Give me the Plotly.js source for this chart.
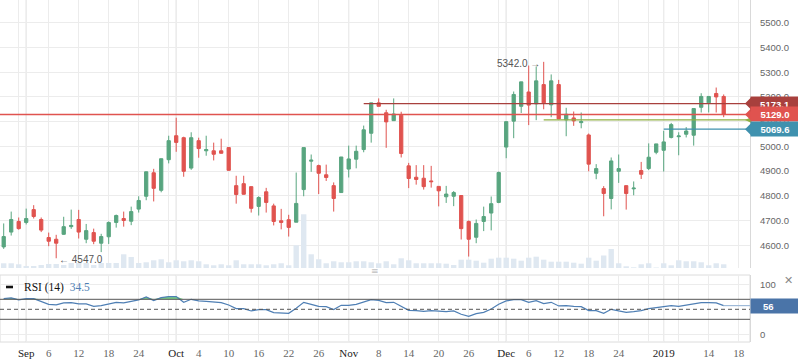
<!DOCTYPE html>
<html><head><meta charset="utf-8">
<script src="https://cdn.plot.ly/plotly-3.0.1.min.js"></script>
<style>html,body{margin:0;padding:0;background:#fff}#chart{width:798px;height:363px}</style>
</head><body><div id="chart"></div>
<script>
// ---- data ----
const dates = [
'2018-08-29','2018-08-30','2018-08-31',
'2018-09-03','2018-09-04','2018-09-05','2018-09-06','2018-09-07','2018-09-10','2018-09-11','2018-09-12','2018-09-13','2018-09-14','2018-09-17','2018-09-18','2018-09-19','2018-09-20','2018-09-21','2018-09-24','2018-09-25','2018-09-26','2018-09-27','2018-09-28',
'2018-10-01','2018-10-02','2018-10-03','2018-10-04','2018-10-05','2018-10-08','2018-10-09','2018-10-10','2018-10-11','2018-10-12','2018-10-15','2018-10-16','2018-10-17','2018-10-18','2018-10-19','2018-10-22','2018-10-23','2018-10-24','2018-10-25','2018-10-26','2018-10-29','2018-10-30','2018-10-31',
'2018-11-01','2018-11-02','2018-11-06','2018-11-07','2018-11-08','2018-11-09','2018-11-12','2018-11-13','2018-11-14','2018-11-15','2018-11-16','2018-11-19','2018-11-20','2018-11-21','2018-11-22','2018-11-23','2018-11-26','2018-11-27','2018-11-28','2018-11-29','2018-11-30',
'2018-12-03','2018-12-04','2018-12-05','2018-12-06','2018-12-07','2018-12-10','2018-12-11','2018-12-12','2018-12-13','2018-12-14','2018-12-17','2018-12-18','2018-12-19','2018-12-20','2018-12-21','2018-12-24','2018-12-25','2018-12-26','2018-12-27','2018-12-28','2018-12-29',
'2019-01-03','2019-01-04','2019-01-08','2019-01-09','2019-01-10','2019-01-11','2019-01-14','2019-01-15','2019-01-16'];
const futureDays = ['2019-01-17','2019-01-18'];

const openP  = [4593,4653,4696,4692,4744,4704,4631,4624,4644,4675,4704,4624,4651,4608,4634,4692,4708,4697,4746,4798,
                4893,4822,4946,5043,5035,4912,5023,4982,4982,4982,4995,4841,4849,4837,4757,4816,4759,4699,4703,4693,
                4825,4940,4922,4885,4841,4813,4908,4948,4987,5053,5176,5136,5104,5126,4921,4875,4871,4860,4838,4796,
                4798,4801,4696,4632,4696,4730,4773,4997,5102,5162,5220,5172,5250,5168,5250,5107,5115,5096,5046,4891,
                4829,4789,4899,4841,4828,4902,4910,4976,4984,5036,5039,5049,5045,5158,5176,5214,5202];
const highP  = [4688,4736,4712,4748,4762,4712,4651,4642,4715,4744,4743,4686,4667,4646,4696,4724,4736,4756,4798,4898,
                4909,4950,5043,5116,5039,5057,5035,5043,5015,5031,4996,4881,4881,4837,4798,4832,4768,4747,4723,4894,
                4995,4967,4926,4926,4854,4957,5003,5003,5084,5176,5194,5148,5194,5140,4933,4924,4924,4921,4838,4840,
                4819,4801,4700,4704,4756,4797,4898,5100,5222,5261,5327,5323,5342,5291,5269,5156,5141,5137,5052,4928,
                4839,4955,4967,4841,4858,4937,5012,5010,5063,5095,5057,5078,5153,5215,5202,5238,5210];
const lowP   = [4585,4639,4663,4684,4708,4653,4596,4547,4642,4666,4627,4608,4604,4572,4605,4671,4675,4681,4732,4782,
                4777,4814,4931,4978,4877,4905,4954,4962,4943,4971,4902,4768,4805,4732,4720,4732,4680,4664,4635,4693,
                4798,4897,4807,4860,4736,4813,4874,4911,4976,5015,5162,4994,5104,4955,4831,4845,4825,4833,4757,4771,
                4758,4623,4554,4608,4657,4660,4770,4952,5033,5135,5086,5106,5150,5118,5111,5041,5083,5073,4899,4867,
                4717,4745,4852,4744,4802,4868,4904,4968,4898,5032,4964,5036,5003,5137,5137,5137,5118];
const closeP = [4635,4704,4667,4708,4716,4661,4616,4608,4675,4680,4653,4659,4616,4635,4692,4720,4700,4736,4781,4897,
                4830,4950,5023,5016,4899,5035,4991,4987,4968,4972,4903,4805,4806,4749,4793,4773,4696,4692,4672,4769,
                4995,4944,4891,4874,4789,4957,4949,4980,5067,5176,5162,5099,5131,4971,4870,4866,4837,4857,4820,4807,
                4813,4667,4624,4688,4716,4768,4894,5100,5210,5261,5167,5265,5176,5265,5111,5130,5103,5100,4928,4910,
                4809,4941,4910,4809,4831,4887,4956,5010,5018,5088,5042,5062,5153,5202,5202,5200,5129];
const volume = [47,47,37,20,20,30,40,40,30,50,50,50,30,50,50,50,137,110,50,57,
                77,87,57,77,67,77,67,37,27,37,27,77,37,37,37,27,37,47,27,227,
                537,137,87,47,67,57,57,67,67,57,47,67,37,97,77,47,47,47,47,43,
                30,83,83,73,53,93,103,103,93,73,103,113,83,63,63,63,53,43,103,73,
                125,190,47,17,7,37,47,5,47,27,77,67,67,57,27,47,37];
const rsi = [71.4,72.7,68.7,71.4,71.4,65.4,60,58.7,62.7,63.4,60.7,60.7,56,57.4,61.4,64,62.7,65.4,68.7,74.7,
             67.4,73.4,75.4,75.4,64,70,66.7,66,65.4,63.4,58.7,51.4,51.4,46.7,49.4,49.4,43.4,42.7,42,52,
             64,60,56,55.4,49.4,58,58,60,64,69.4,68,63.4,64,56,48,47.4,46,47.4,46,45.4,
             46.7,40,36,41.4,44,50.7,60,66.7,69.4,69.4,64,67.4,61.4,64,56.7,57.4,56,55.4,47.4,47.4,
             42,50,46.7,44,45.4,47.4,51.4,53.4,54,57.4,56,58,61.4,63.4,63.4,62.7,57.4];

const tickDates  = ['2018-08-31','2018-09-03','2018-09-06','2018-09-12','2018-09-18','2018-09-24','2018-09-28','2018-10-01','2018-10-04','2018-10-10','2018-10-16','2018-10-22','2018-10-26','2018-11-01','2018-11-08','2018-11-14','2018-11-20','2018-11-26','2018-11-30','2018-12-03','2018-12-06','2018-12-12','2018-12-18','2018-12-24','2018-12-28','2019-01-03','2019-01-08','2019-01-14','2019-01-18'];
const tickLabels = ['','Sep','6','12','18','24','','Oct','4','10','16','22','26','Nov','8','14','20','26','','Dec','6','12','18','24','','2019','','14','18'];
const monthStarts = ['2018-09-03','2018-10-01','2018-11-01','2018-12-03','2019-01-03'];
const priceTicks = [4600,4700,4800,4900,5000,5100,5200,5300,5400,5500];
const rsiTicks = [0,100];
const rsiLevels = [30,50,70];

const levelValues = [5173.1,5107.0,5069.6];
const levelStarts = ['2018-11-06','2018-12-10','2019-01-03'];
const levelColors = ['#a8403d','#8fb046','#3f91ae'];
const levelBadges = ['5173.1','','5069.6'];
const lastPrice = 5129.0;
const lowMark = {date:'2018-09-07', value:4547.0};
const highMark = {date:'2018-12-10', value:5342.0};
const rsiBadge = 56;
const rsiLegendValue = '34.5';

// ---- helpers ----
const allDays = dates.concat(futureDays);
const pos = d => allDays.indexOf(d);
const xIdx = dates.map(pos);
const xStart = -0.493, xEnd = allDays.length + 0.507;
const G = '#58a57f', R = '#e0534f';
const MONTH = new Set(['Sep','Oct','Nov','Dec','2019']);
const tickText = tickLabels.map(t => MONTH.has(t) ? '<span style="color:#222">'+t+'</span>' : t);

const traces = [
  {type:'bar', x:xIdx, y:volume, xaxis:'x', yaxis:'y', marker:{color:'#dfe8f1'}, width:0.72, hoverinfo:'skip'},
  {type:'candlestick', x:xIdx, open:openP, high:highP, low:lowP, close:closeP, xaxis:'x', yaxis:'y3',
   increasing:{line:{color:G,width:1}, fillcolor:G}, decreasing:{line:{color:R,width:1}, fillcolor:R},
   whiskerwidth:0, hoverinfo:'skip'},
  {type:'scatter', mode:'lines', x:xIdx, y:rsi.map(()=>70), xaxis:'x', yaxis:'y2', line:{width:0}, hoverinfo:'skip'},
  {type:'scatter', mode:'lines', x:xIdx, y:rsi.map(v=>Math.max(v,70)), xaxis:'x', yaxis:'y2', line:{width:0},
   fill:'tonexty', fillcolor:'#79cf86', hoverinfo:'skip'},
  {type:'scatter', mode:'lines', x:xIdx, y:rsi, xaxis:'x', yaxis:'y2', line:{color:'#4f7fb4', width:1.2}, hoverinfo:'skip'}
];

// price units per pixel on the price axis (used only for badge tip geometry)
const priceRange = [4507.7,5592.3];
const pxPrice = (priceRange[1]-priceRange[0]) / (363-21-74);

const shapes = [];
monthStarts.forEach(m => {
  ['y domain','y2 domain'].forEach(r => shapes.push({type:'line', layer:'below', xref:'x', yref:r, x0:pos(m), x1:pos(m), y0:0, y1:1, line:{color:'#d4d4d4', width:1}}));
});
levelValues.forEach((v,i) => shapes.push({type:'line', xref:'x', yref:'y3', x0:pos(levelStarts[i]), x1:xEnd, y0:v, y1:v, line:{color:levelColors[i], width:1.4}}));
shapes.push({type:'line', xref:'x', yref:'y3', x0:xStart, x1:xEnd, y0:lastPrice, y1:lastPrice, line:{color:R, width:1.3}});
rsiLevels.forEach(v => shapes.push({type:'line', xref:'x', yref:'y2', x0:xStart, x1:xEnd, y0:v, y1:v,
  line:{color:'#555', width:1, dash: v===50 ? '4px,3px' : 'solid'}}));
shapes.push({type:'line', xref:'x', yref:'y2', x0:xIdx[xIdx.length-1], x1:xEnd, y0:rsi[rsi.length-1], y1:rsi[rsi.length-1], line:{color:'#9fbad8', width:1.2}});
shapes.push({type:'rect', xref:'paper', yref:'y2 domain', x0:0, x1:1, y0:0, y1:1, line:{color:'#dcdcdc', width:1}, layer:'below'});
shapes.push({type:'rect', xref:'paper', yref:'paper', x0:6/750, x1:13/750, y0:(342-288.3)/342, y1:(342-285.7)/342, fillcolor:'#111', line:{width:0}});
// small left-pointing tips of the price badges
const tip = (v, color, hpx) => ({type:'path', xref:'paper', yref:'y3',
  path:'M '+(1-5/750)+' '+v+' L 1.002 '+(v+hpx*pxPrice)+' L 1.002 '+(v-hpx*pxPrice)+' Z', fillcolor:color, line:{width:0}});
shapes.push(tip(levelValues[0], levelColors[0], 6.5));
shapes.push(tip(levelValues[1], levelColors[1], 3));
shapes.push(tip(lastPrice, R, 6.5));
shapes.push(tip(levelValues[2], levelColors[2], 6.5));

const annotations = [
  {xref:'x', yref:'y3', x:pos(lowMark.date), y:lowMark.value, text:'← '+lowMark.value.toFixed(1), showarrow:false, xanchor:'left', xshift:1, yshift:-1, font:{family:'Liberation Sans, Arial, sans-serif', size:10, color:'#555'}},
  {xref:'x', yref:'y3', x:pos(highMark.date), y:highMark.value, text:highMark.value.toFixed(1)+' →', showarrow:false, xanchor:'right', xshift:-2, yshift:-2, font:{family:'Liberation Sans, Arial, sans-serif', size:10, color:'#555'}}
];
const badge = (val, txt, color, yref) => ({xref:'paper', yref:yref, x:1, y:val, xanchor:'left', yanchor:'middle', text:'<b>'+txt+'</b>', showarrow:false,
  bgcolor:color, width:44, height:10, borderpad:2, align:'center', font:{family:'Liberation Sans, Arial, sans-serif', size:9.5, color:'#fff'}});
annotations.push(badge(levelValues[0], levelBadges[0], levelColors[0], 'y3'));
annotations.push(badge(lastPrice, lastPrice.toFixed(1), R, 'y3'));
annotations.push(badge(levelValues[2], levelBadges[2], levelColors[2], 'y3'));
annotations.push({xref:'paper', yref:'y2', x:1, y:rsiBadge, xanchor:'left', yanchor:'middle', text:'\u00a0', showarrow:false, bgcolor:'#4a74a8', width:44, height:10, borderpad:2});
annotations.push({xref:'paper', yref:'y2', x:1, y:rsiBadge, xanchor:'left', yanchor:'middle', xshift:11, text:'<b>'+rsiBadge+'</b>', showarrow:false, font:{family:'Liberation Sans, Arial, sans-serif', size:9.5, color:'#fff'}});
annotations.push({xref:'paper', yref:'paper', x:22/750, y:(342-287)/342, xanchor:'left', yanchor:'middle', showarrow:false,
  text:'<span style="color:#111">RSI (14)</span>\u00a0\u00a0<span style="color:#4f7fb4">'+rsiLegendValue+'</span>', font:{family:'Liberation Serif, Times New Roman, serif', size:11.5}});
annotations.push({xref:'paper', yref:'paper', x:375/750, y:(342-271)/342, xanchor:'center', yanchor:'middle', showarrow:false, text:'≡', font:{family:'DejaVu Sans', size:9, color:'#c0c0c0'}});
annotations.push({xref:'paper', yref:'paper', x:788/750, y:(342-280)/342, xanchor:'center', yanchor:'middle', showarrow:false, text:'✕', font:{family:'DejaVu Sans', size:11, color:'#888'}});

const sansFont = {family:'Liberation Sans, Arial, sans-serif', size:9.5, color:'#666'};
const layout = {
  width:798, height:363, margin:{l:0, r:48, t:0, b:21}, paper_bgcolor:'#fff', plot_bgcolor:'#fff',
  showlegend:false, boxgap:0.38, bargap:0.2, dragmode:false,
  xaxis:{range:[xStart,xEnd], anchor:'y2', tickmode:'array', tickvals:tickDates.map(pos), ticktext:tickText,
    showgrid:true, gridcolor:'#ececec', gridwidth:1, zeroline:false, showline:false, ticks:'', ticklabelstandoff:3,
    tickfont:{family:'Liberation Serif, Times New Roman, serif', size:11, color:'#666'}, rangeslider:{visible:false}},
  yaxis:{domain:[0.2164,1], range:[0,2680], visible:false, showgrid:false, anchor:'x'},
  yaxis3:{overlaying:'y', side:'right', anchor:'x', range:priceRange, tickmode:'array', tickvals:priceTicks,
    ticktext:priceTicks.map(v=>v.toFixed(1)), showgrid:true, gridcolor:'#ececec', zeroline:false,
    showline:true, linecolor:'#d9d9d9', ticks:'', ticklabelstandoff:7, tickfont:sansFont},
  yaxis2:{domain:[0,0.1959], anchor:'x', side:'right', range:[-15.4,118.6], tickmode:'array', tickvals:rsiTicks,
    ticktext:rsiTicks.map(String), showgrid:true, gridcolor:'#ececec', zeroline:false, showline:true,
    linecolor:'#d9d9d9', ticks:'', ticklabelstandoff:7, tickfont:sansFont},
  shapes:shapes, annotations:annotations
};
Plotly.newPlot('chart', traces, layout, {staticPlot:true, displayModeBar:false});
</script></body></html>
